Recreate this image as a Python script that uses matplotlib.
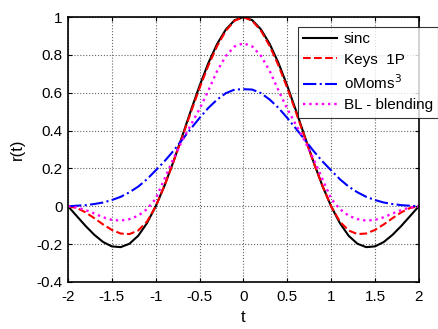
import matplotlib
matplotlib.use("Agg")
import matplotlib.pyplot as plt
import numpy as np

plt.rcParams['font.family'] = ['Liberation Sans', 'DejaVu Sans']

# valores (t de -2 a 2, paso 0.1)
t = [-2.0, -1.9, -1.8, -1.7, -1.6, -1.5, -1.4, -1.3, -1.2, -1.1, -1.0,
     -0.9, -0.8, -0.7, -0.6, -0.5, -0.4, -0.3, -0.2, -0.1, 0.0,
     0.1, 0.2, 0.3, 0.4, 0.5, 0.6, 0.7, 0.8, 0.9, 1.0,
     1.1, 1.2, 1.3, 1.4, 1.5, 1.6, 1.7, 1.8, 1.9, 2.0]

sinc = [0.0, -0.052, -0.104, -0.151, -0.189, -0.212, -0.216, -0.198, -0.156, -0.089, 0.0,
        0.109, 0.234, 0.368, 0.505, 0.637, 0.757, 0.858, 0.935, 0.984, 1.0,
        0.984, 0.935, 0.858, 0.757, 0.637, 0.505, 0.368, 0.234, 0.109, 0.0,
        -0.089, -0.156, -0.198, -0.216, -0.212, -0.189, -0.151, -0.104, -0.052, 0.0]

keys = [0.0, -0.009, -0.032, -0.063, -0.096, -0.125, -0.144, -0.147, -0.128, -0.081, 0.0,
        0.109, 0.232, 0.363, 0.496, 0.625, 0.744, 0.847, 0.928, 0.981, 1.0,
        0.981, 0.928, 0.847, 0.744, 0.625, 0.496, 0.363, 0.232, 0.109, 0.0,
        -0.081, -0.128, -0.147, -0.144, -0.125, -0.096, -0.063, -0.032, -0.009, 0.0]

omoms = [0.0, 0.003, 0.006, 0.012, 0.020, 0.033, 0.050, 0.074, 0.104, 0.143, 0.190,
         0.238, 0.292, 0.351, 0.410, 0.467, 0.520, 0.564, 0.598, 0.617, 0.619,
         0.617, 0.598, 0.564, 0.520, 0.467, 0.410, 0.351, 0.292, 0.238, 0.190,
         0.143, 0.104, 0.074, 0.050, 0.033, 0.020, 0.012, 0.006, 0.003, 0.0]

blend = [0.0, -0.006, -0.020, -0.038, -0.058, -0.072, -0.076, -0.068, -0.050, -0.015, 0.040,
         0.145, 0.250, 0.345, 0.430, 0.515, 0.612, 0.715, 0.795, 0.845, 0.862,
         0.845, 0.795, 0.715, 0.612, 0.515, 0.430, 0.345, 0.250, 0.145, 0.040,
         -0.015, -0.050, -0.068, -0.076, -0.072, -0.058, -0.038, -0.020, -0.006, 0.0]

fig = plt.figure(figsize=(4.39, 3.29), dpi=100)
ax = fig.add_axes([0.155, 0.143, 0.799, 0.805])

ax.plot(t, sinc, '-', color='black', lw=1.5, label='sinc')
ax.plot(t, keys, '--', color='red', lw=1.5, label='Keys  1P')
ax.plot(t, omoms, '-.', color='blue', lw=1.5, label='oMoms$^3$')
ax.plot(t, blend, ':', color='magenta', lw=1.7, label='BL - blending')

ax.set_xlim(-2, 2)
ax.set_ylim(-0.4, 1)
ax.set_xticks(np.arange(-2, 2.01, 0.5))
ax.set_yticks(np.arange(-0.4, 1.01, 0.2))
ax.set_xticklabels(['-2', '-1.5', '-1', '-0.5', '0', '0.5', '1', '1.5', '2'])
ax.set_yticklabels(['-0.4', '-0.2', '0', '0.2', '0.4', '0.6', '0.8', '1'])
ax.tick_params(direction='in', top=True, right=True, labelsize=11, length=3, color='black')
ax.tick_params(axis='x', pad=6)
ax.tick_params(axis='y', pad=4)
ax.grid(True, linestyle=':', color='#666666', lw=0.8)
for s in ax.spines.values():
    s.set_linewidth(1.2)

ax.set_xlabel('t', fontsize=12, labelpad=4)
ax.set_ylabel('r(t)', fontsize=12, labelpad=8)

leg = ax.legend(loc='upper right', bbox_to_anchor=(438/439, 1-27/329),
                bbox_transform=fig.transFigure, fontsize=11, frameon=True,
                fancybox=False, handlelength=2.2, handletextpad=0.45,
                borderpad=0.35, labelspacing=0.42, borderaxespad=0)
leg.get_frame().set_edgecolor('black')
leg.get_frame().set_linewidth(0.8)

fig.savefig('out.png', dpi=100)
